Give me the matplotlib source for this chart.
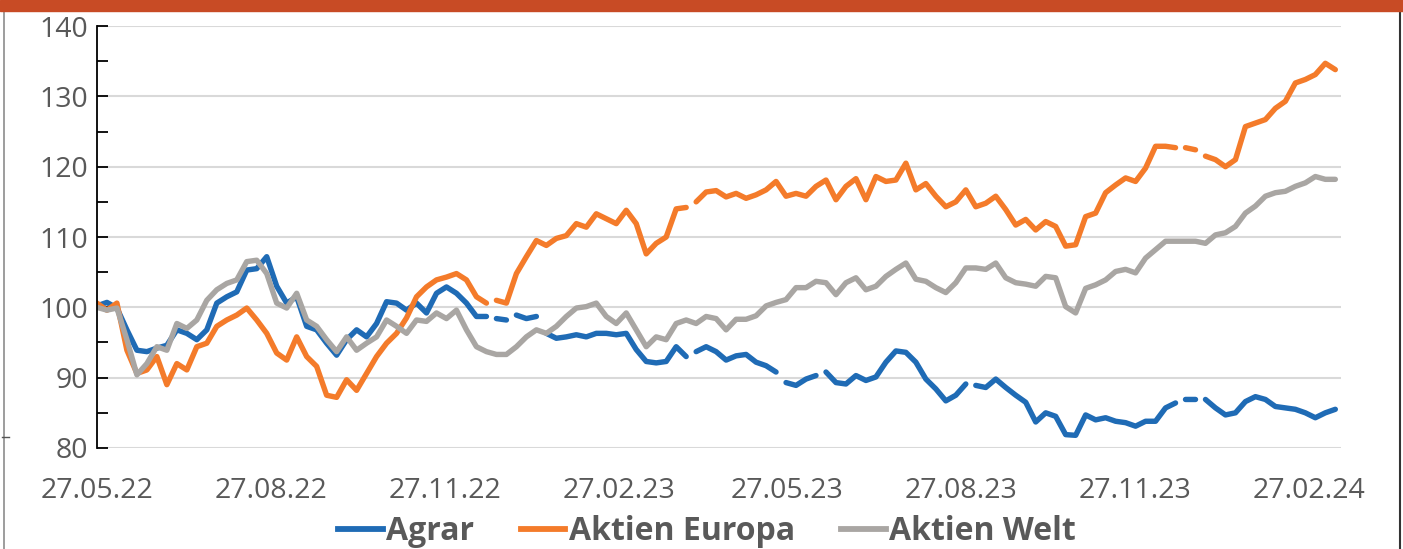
import numpy as np
import pandas as pd
import matplotlib
matplotlib.use("Agg")
import matplotlib.pyplot as plt
from matplotlib.lines import Line2D
from matplotlib.ticker import MultipleLocator

# ---- data (roughly every 5 days) ----
start_date = "2022-05-27"
end_date = "2024-03-12"

agrar = [
    100.2, 100.7, 99.9, 96.8, 93.9, 93.7, 94.2, 94.6, 96.8, 96.3, 95.4, 96.8, 100.6, 101.5, 102.2, 105.3,
    105.5, 107.2, 103.0, 100.6, 101.5, 97.3, 96.8, 94.9, 93.2, 95.4, 96.8, 95.8, 97.7, 100.8, 100.6, 99.6,
    100.6, 99.2, 102.0, 102.9, 102.0, 100.6, 98.7, 98.7, 98.4, 98.2, 98.9, 98.4, 98.7, 96.3, 95.6, 95.8,
    96.1, 95.8, 96.3, 96.3, 96.1, 96.3, 94.0, 92.3, 92.1, 92.3, 94.4, 93.0, 93.7, 94.4, 93.7, 92.5,
    93.1, 93.3, 92.2, 91.7, 90.8, 89.3, 88.9, 89.8, 90.3, 90.8, 89.3, 89.1, 90.3, 89.6, 90.1, 92.2,
    93.8, 93.6, 92.2, 89.8, 88.4, 86.7, 87.5, 89.1, 88.9, 88.6, 89.8, 88.6, 87.5, 86.5, 83.7,
    85.0, 84.5, 81.9, 81.8, 84.7, 84.0, 84.3, 83.8, 83.6, 83.1, 83.8, 83.8, 85.7, 86.4, 86.9, 86.9,
    86.9, 85.7, 84.7, 85.0, 86.6, 87.3, 86.9, 85.9, 85.7, 85.5, 85.0, 84.3, 85.0, 85.5,
]

aktien_europa = [
    100.6, 99.6, 100.6, 93.9, 90.6, 91.1, 93.0, 89.0, 92.0, 91.1, 94.4, 94.9, 97.3, 98.2, 98.9, 99.9,
    98.2, 96.3, 93.5, 92.5, 95.8, 93.0, 91.6, 87.5, 87.2, 89.7, 88.2, 90.6, 93.0, 94.9, 96.3, 98.5,
    101.5, 102.9, 103.9, 104.3, 104.8, 103.9, 101.5, 100.6, 101.0, 100.6, 104.8, 107.2, 109.5, 108.8, 109.8, 110.2,
    111.9, 111.4, 113.3, 112.6, 111.9, 113.8, 111.9, 107.6, 109.1, 110.0, 114.0, 114.2, 115.0, 116.4, 116.6, 115.7,
    116.2, 115.5, 116.0, 116.7, 117.9, 115.8, 116.2, 115.8, 117.2, 118.1, 115.3, 117.2, 118.3, 115.3, 118.6, 117.9,
    118.1, 120.5, 116.7, 117.6, 115.8, 114.3, 115.0, 116.7, 114.3, 114.8, 115.8, 113.9, 111.7, 112.5, 111.0,
    112.2, 111.5, 108.7, 108.9, 112.9, 113.4, 116.3, 117.4, 118.4, 117.9, 119.8, 122.9, 122.9, 122.7, 122.7, 122.4,
    121.5, 121.0, 120.0, 121.0, 125.7, 126.2, 126.7, 128.3, 129.3, 131.9, 132.4, 133.1, 134.7, 133.8,
]

aktien_welt = [
    100.0, 99.6, 99.9, 95.4, 90.4, 92.0, 94.4, 93.9, 97.7, 97.0, 98.2, 101.0, 102.5, 103.4, 103.9, 106.5,
    106.7, 104.8, 100.6, 99.9, 102.0, 98.2, 97.3, 95.4, 93.7, 95.8, 93.9, 94.9, 95.8, 98.2, 97.3, 96.3,
    98.2, 98.0, 99.2, 98.4, 99.6, 96.8, 94.4, 93.7, 93.3, 93.3, 94.4, 95.8, 96.8, 96.3, 97.3, 98.7,
    99.9, 100.1, 100.6, 98.7, 97.7, 99.2, 96.8, 94.4, 95.8, 95.4, 97.7, 98.2, 97.7, 98.7, 98.4, 96.8,
    98.3, 98.3, 98.8, 100.2, 100.7, 101.1, 102.8, 102.8, 103.7, 103.5, 101.8, 103.5, 104.2, 102.5, 103.0, 104.4,
    105.4, 106.3, 104.0, 103.7, 102.8, 102.1, 103.5, 105.6, 105.6, 105.4, 106.3, 104.2, 103.5, 103.3, 103.0,
    104.4, 104.2, 100.1, 99.2, 102.7, 103.2, 103.9, 105.1, 105.4, 104.9, 107.0, 108.2, 109.4, 109.4, 109.4, 109.4,
    109.1, 110.3, 110.6, 111.5, 113.4, 114.4, 115.8, 116.3, 116.5, 117.2, 117.7, 118.6, 118.2, 118.2,
]

# sample indices after which the reference line has a short break (missing quotes)
agrar_breaks = [39, 41, 44, 59, 68, 72, 87, 108, 110]
europa_breaks = [39, 59, 108, 110]
welt_breaks = []

series_names = ["Agrar", "Aktien Europa", "Aktien Welt"]
tick_dates = ["2022-05-27", "2022-08-27", "2022-11-27", "2023-02-27",
              "2023-05-27", "2023-08-27", "2023-11-27", "2024-02-27"]
tick_labels = ["27.05.22", "27.08.22", "27.11.22", "27.02.23",
               "27.05.23", "27.08.23", "27.11.23", "27.02.24"]

dates = pd.date_range(start_date, end_date, periods=len(agrar))


def with_breaks(values, breaks):
    xs, ys = [], []
    for i, v in enumerate(values):
        xs.append(dates[i])
        ys.append(v)
        if i in breaks and i + 1 < len(values):
            xs.append(dates[i] + (dates[i + 1] - dates[i]) / 2)
            ys.append(np.nan)
    return xs, ys


# ---- style ----
colors = ["#1F6BB5", "#F47B2A", "#A9A6A3"]
text_col = "#595959"
plt.rcParams["font.family"] = ["Open Sans", "DejaVu Sans"]

fig = plt.figure(figsize=(14.03, 5.49), dpi=100)
ax = fig.add_axes([0.0691, 0.184, 0.8867, 0.7686])

for vals, brk, name, c in zip([agrar, aktien_europa, aktien_welt],
                              [agrar_breaks, europa_breaks, welt_breaks], series_names, colors):
    xs, ys = with_breaks(vals, brk)
    ax.plot(xs, ys, color=c, lw=3.9, label=name,
            solid_capstyle="round", solid_joinstyle="round")

ax.set_ylim(80, 140)
ax.set_xlim(pd.Timestamp(start_date), pd.Timestamp(start_date) + pd.Timedelta(days=658))
ax.yaxis.set_major_locator(MultipleLocator(10))
ax.yaxis.set_minor_locator(MultipleLocator(5))
ax.grid(axis="y", which="major", color="#D9D9D9", lw=1.5, zorder=0)
ax.set_axisbelow(True)

ax.set_xticks(pd.to_datetime(tick_dates))
ax.set_xticklabels(tick_labels)
ax.tick_params(axis="x", length=0, pad=21, labelsize=20.5, labelcolor=text_col)
ax.tick_params(axis="y", which="both", direction="in", length=8, width=1.3,
               color="black", labelsize=20.5, labelcolor=text_col, pad=6)

for s in ["top", "right", "bottom"]:
    ax.spines[s].set_visible(False)
ax.spines["left"].set_color("black")
ax.spines["left"].set_linewidth(1.3)

handles = [Line2D([], [], color=c, lw=4.2) for c in colors]
leg = fig.legend(handles, series_names, loc="center", bbox_to_anchor=(0.504, 0.031),
                 ncol=3, frameon=False, handlelength=1.4, handletextpad=0.1,
                 columnspacing=1.45, prop={"family": "Open Sans", "weight": "bold", "size": 23})
for t in leg.get_texts():
    t.set_color(text_col)

# ---- frame decorations ----
fig.patches.append(plt.Rectangle((0, 1 - 11 / 549), 1, 11 / 549, transform=fig.transFigure,
                                 color="#C84B25", zorder=5))
fig.lines.append(Line2D([4 / 1403, 4 / 1403], [0, 1 - 11 / 549], transform=fig.transFigure,
                        color="#8C8C8C", lw=1.2))
fig.lines.append(Line2D([1400 / 1403, 1400 / 1403], [0, 1 - 11 / 549], transform=fig.transFigure,
                        color="#333333", lw=1.5))
fig.lines.append(Line2D([2 / 1403, 9 / 1403], [1 - 437 / 549, 1 - 437 / 549], transform=fig.transFigure,
                        color="#555555", lw=1))

fig.savefig("out.png", dpi=100, facecolor="white")
